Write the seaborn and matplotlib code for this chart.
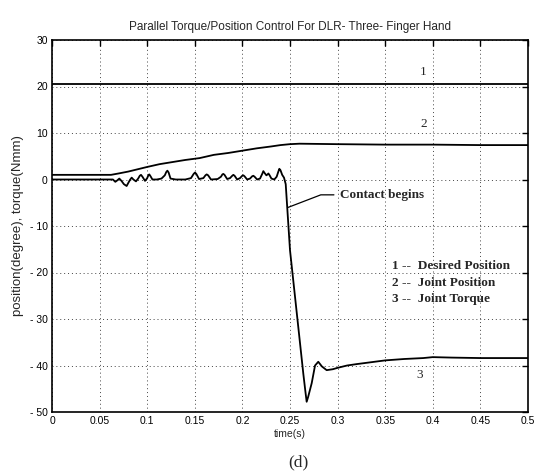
import numpy as np
import pandas as pd
import matplotlib
matplotlib.use("Agg")
import matplotlib.pyplot as plt
import seaborn as sns

# ---- data ----
desired_t = [0.0, 0.5]
desired_v = [20.5, 20.5]

joint_pos_t = [0.0, 0.062, 0.07, 0.08, 0.09, 0.10, 0.113, 0.125, 0.14, 0.155, 0.17,
               0.185, 0.20, 0.215, 0.23, 0.24, 0.25, 0.26, 0.30, 0.35, 0.40, 0.45, 0.5]
joint_pos_v = [1.0, 1.0, 1.3, 1.7, 2.2, 2.7, 3.3, 3.7, 4.2, 4.6, 5.3,
               5.7, 6.2, 6.7, 7.1, 7.4, 7.6, 7.7, 7.6, 7.5, 7.5, 7.4, 7.4]

torque_t = [0.0, 0.064, 0.0665, 0.0685, 0.0707, 0.073, 0.0755, 0.0784, 0.0805, 0.0822,
            0.0837, 0.0855, 0.0882, 0.0905, 0.0922, 0.0935, 0.0950, 0.0977, 0.1000, 0.1012,
            0.1022, 0.1035, 0.1055, 0.1100, 0.1150, 0.1185, 0.1200, 0.1212, 0.1225, 0.1245,
            0.1300, 0.1400, 0.1460, 0.1488, 0.1502, 0.1516, 0.1545, 0.1590, 0.1612, 0.1625,
            0.1640, 0.1670, 0.1740, 0.1775, 0.1790, 0.1800, 0.1812, 0.1840, 0.1870, 0.1893,
            0.1905, 0.1918, 0.1945, 0.1975, 0.1998, 0.2010, 0.2022, 0.2050, 0.2080, 0.2103,
            0.2115, 0.2128, 0.2155, 0.2185, 0.2208, 0.2220, 0.2233, 0.2252, 0.2265, 0.2273,
            0.2283, 0.2305, 0.2335, 0.2360, 0.2376, 0.2388, 0.2400, 0.2418, 0.2437, 0.2455,
            0.250, 0.255, 0.260, 0.264, 0.266, 0.2675, 0.269, 0.2728, 0.2763, 0.2797,
            0.2835, 0.2885, 0.295, 0.30, 0.31, 0.32, 0.335, 0.35, 0.37, 0.39,
            0.40, 0.42, 0.45, 0.48, 0.5]
torque_v = [0.0, 0.0, -0.5, -0.2, 0.2, -0.3, -1.0, -1.4, -0.6, 0.0,
            0.4, 0.0, -0.4, 0.2, 0.8, 1.0, 0.6, -0.3, 0.3, 0.9,
            1.1, 0.7, 0.0, 0.0, 0.2, 0.9, 1.6, 1.9, 1.5, 0.2,
            0.0, 0.0, 0.3, 1.2, 1.5, 1.2, 0.1, 0.3, 0.9, 1.1,
            0.9, 0.0, 0.1, 0.6, 1.1, 1.2, 1.0, 0.1, 0.3, 0.8,
            1.0, 0.8, 0.0, 0.3, 0.8, 0.9, 0.7, 0.0, 0.2, 0.7,
            0.8, 0.6, 0.0, 0.2, 1.2, 1.8, 1.4, 0.9, 1.1, 1.3,
            1.0, 0.2, 0.0, 0.6, 1.6, 2.3, 2.0, 1.0, 0.4, -1.0,
            -15.2, -24.7, -34.2, -41.8, -45.3, -47.8, -46.8, -43.8, -40.0, -39.2,
            -40.2, -41.0, -40.8, -40.5, -40.0, -39.7, -39.3, -38.9, -38.6, -38.4,
            -38.2, -38.3, -38.4, -38.4, -38.4]

x_ticks = [0, 0.05, 0.1, 0.15, 0.2, 0.25, 0.3, 0.35, 0.4, 0.45, 0.5]
x_tick_labels = ["0", "0.05", "0.1", "0.15", "0.2", "0.25", "0.3", "0.35", "0.4", "0.45", "0.5"]
y_ticks = [30, 20, 10, 0, -10, -20, -30, -40, -50]
y_tick_labels = ["30", "20", "10", "0", "- 10", "- 20", "- 30", "- 40", "- 50"]

curve_labels = ["1", "2", "3"]
legend_lines = ["1 --  Desired Position", "2 --  Joint Position", "3 --  Joint Torque"]

title = "Parallel Torque/Position Control For DLR- Three- Finger Hand"
xlabel = "time(s)"
ylabel = "position(degree), torque(Nmm)"
caption = "(d)"
annotation = "Contact begins"

# ---- figure ----
sns.set_theme(style="white")
plt.rcParams["font.family"] = ["Liberation Sans", "DejaVu Sans"]

fig = plt.figure(figsize=(5.47, 4.75), dpi=100)
ax = fig.add_axes([52 / 547, 1 - 412 / 475, (528 - 52) / 547, (412 - 40) / 475])

for tt, vv in [(desired_t, desired_v), (joint_pos_t, joint_pos_v), (torque_t, torque_v)]:
    df = pd.DataFrame({"t": tt, "v": vv})
    sns.lineplot(data=df, x="t", y="v", ax=ax, color="black", linewidth=1.3,
                 sort=False, estimator=None)

ax.set_xlim(0, 0.5)
ax.set_ylim(-50, 30)
ax.set_xticks(x_ticks)
ax.set_xticklabels(x_tick_labels)
ax.set_yticks(y_ticks)
ax.set_yticklabels(y_tick_labels)
ax.tick_params(direction="in", length=4, width=1, top=True, right=True,
               labelsize=7.5, pad=3, colors="black")
ax.grid(True, linestyle=(0, (1, 3)), color="#444444", linewidth=0.7)
for s in ax.spines.values():
    s.set_color("black")
    s.set_linewidth(1.2)

ax.set_title(title, fontsize=8.5, pad=7)
ax.set_xlabel(xlabel, fontsize=7.5, labelpad=2)
ax.set_ylabel(ylabel, fontsize=9.5, labelpad=4)

serif = ["Liberation Serif", "DejaVu Serif"]
ax.text(0.39, 23.2, curve_labels[0], family=serif, fontsize=9.5, ha="center", va="center")
ax.text(0.39, 12.0, curve_labels[1], family=serif, fontsize=9.5, ha="center", va="center")
ax.text(0.386, -42.0, curve_labels[2], family=serif, fontsize=9.5, ha="center", va="center")

for i, txt in enumerate(legend_lines):
    ax.text(0.357, -18.6 - 3.6 * i, txt, family=serif, fontsize=9.5, ha="left",
            va="center", fontweight="bold")

ax.annotate(annotation, xy=(0.248, -6.0), xytext=(0.3025, -3.3),
            family=serif, fontsize=9.5, ha="left", va="center", fontweight="bold",
            arrowprops=dict(arrowstyle="-", color="black", lw=0.9,
                            connectionstyle="angle,angleA=0,angleB=21,rad=0",
                            shrinkA=2, shrinkB=0))

fig.text(298 / 547, 1 - 462 / 475, caption, family=serif, fontsize=12.5,
         ha="center", va="center")

fig.savefig("out.png", dpi=100)
